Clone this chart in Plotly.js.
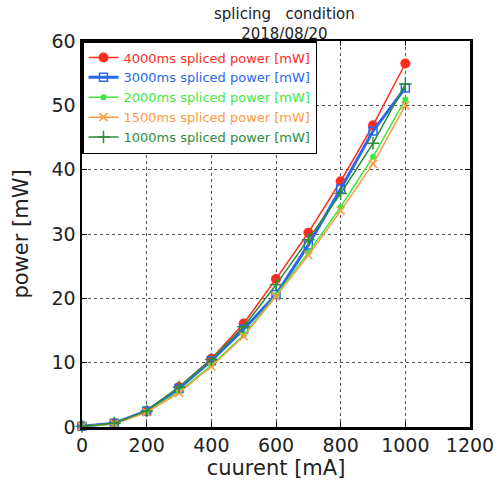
<!DOCTYPE html>
<html>
<head>
<meta charset="utf-8">
<script src="https://cdn.plot.ly/plotly-3.0.1.min.js"></script>
<style>html,body{margin:0;padding:0;background:#fff;}#chart{width:498px;height:481px;}</style>
</head>
<body>
<div id="chart"></div>
<script>
const current = [0, 100, 200, 300, 400, 500, 600, 700, 800, 900, 1000];
const p4000 = [0.1, 0.6, 2.5, 6.2, 10.6, 16.1, 23.0, 30.2, 38.2, 46.9, 56.5];
const p3000 = [0.1, 0.6, 2.5, 6.0, 10.3, 15.2, 20.6, 28.3, 37.0, 46.0, 52.7];
const p2000 = [0.1, 0.5, 2.4, 5.5, 9.6, 14.3, 20.5, 27.1, 34.2, 42.0, 50.9];
const p1500 = [0.1, 0.5, 2.3, 5.3, 9.4, 14.1, 20.3, 26.7, 33.6, 40.9, 50.0];
const p1000 = [0.1, 0.6, 2.5, 6.2, 10.5, 15.6, 22.1, 29.1, 36.3, 44.1, 53.3];
const seriesNames = ['4000ms spliced power [mW]', '3000ms spliced power [mW]', '2000ms spliced power [mW]', '1500ms spliced power [mW]', '1000ms spliced power [mW]'];
const xTicks = [0, 200, 400, 600, 800, 1000, 1200];
const yTicks = [0, 10, 20, 30, 40, 50, 60];
const titleLines = ['splicing&nbsp;&nbsp; condition', '2018/08/20'];

const colors = ['#ff2d1e', '#2a68ee', '#3ee83e', '#ff9a40', '#2e8b3c'];
const ys = [p4000, p3000, p2000, p1500, p1000];
const markers = [
  {symbol: 'circle', size: 10, color: colors[0]},
  {symbol: 'square-open', size: 8, color: colors[1], line: {width: 1.5, color: colors[1]}},
  {symbol: 'circle', size: 6, color: colors[2]},
  {symbol: 'x-thin-open', size: 8, color: colors[3], line: {width: 1.5, color: colors[3]}},
  {symbol: 'cross-thin-open', size: 9, color: colors[4], line: {width: 1.5, color: colors[4]}}
];
const widths = [1.5, 3, 1.5, 1.5, 1.5];

const traces = ys.map((y, i) => ({
  x: current, y: y, type: 'scatter', mode: 'lines+markers',
  name: '<span style="color:' + colors[i] + '">' + seriesNames[i] + '</span>',
  line: {color: colors[i], width: widths[i]},
  marker: markers[i],
  cliponaxis: false
}));

const font = "'DejaVu Sans', sans-serif";
const tc = '#222';
const layout = {
  width: 498, height: 481,
  margin: {l: 82, r: 28, t: 41, b: 54},
  paper_bgcolor: '#fff', plot_bgcolor: '#fff',
  font: {family: font, color: tc},
  annotations: [
    {text: titleLines.join('<br>'), xref: 'paper', yref: 'paper', x: 0.523, y: 1, xanchor: 'center', yanchor: 'bottom', yshift: -4, showarrow: false, align: 'center', font: {size: 15, family: font, color: tc}}
  ],
  showlegend: true,
  legend: {x: 0, y: 1, xanchor: 'left', yanchor: 'top', bgcolor: '#fff', bordercolor: '#000', borderwidth: 1.5,
           font: {size: 13, family: font}, tracegroupgap: 0, itemwidth: 30},
  xaxis: {range: [0, 1200], tickvals: xTicks, ticktext: xTicks.map(String), ticks: 'inside', ticklen: 5, tickcolor: '#000',
          showline: true, linecolor: '#000', linewidth: 2.5, mirror: 'ticks', showgrid: true, gridcolor: '#555', griddash: 'dot', gridwidth: 1,
          zeroline: false, tickfont: {size: 19, family: font, color: tc},
          title: {text: 'cuurent [mA]', font: {size: 21, family: font, color: tc}, standoff: 4}},
  yaxis: {range: [0, 60], tickvals: yTicks, ticktext: yTicks.map(String), ticks: 'inside', ticklen: 5, tickcolor: '#000',
          showline: true, linecolor: '#000', linewidth: 2.5, mirror: 'ticks', showgrid: true, gridcolor: '#555', griddash: 'dot', gridwidth: 1,
          zeroline: false, tickfont: {size: 19, family: font, color: tc},
          title: {text: 'power [mW]', font: {size: 21, family: font, color: tc}, standoff: 17}}
};
Plotly.newPlot('chart', traces, layout, {staticPlot: true});
</script>
</body>
</html>
